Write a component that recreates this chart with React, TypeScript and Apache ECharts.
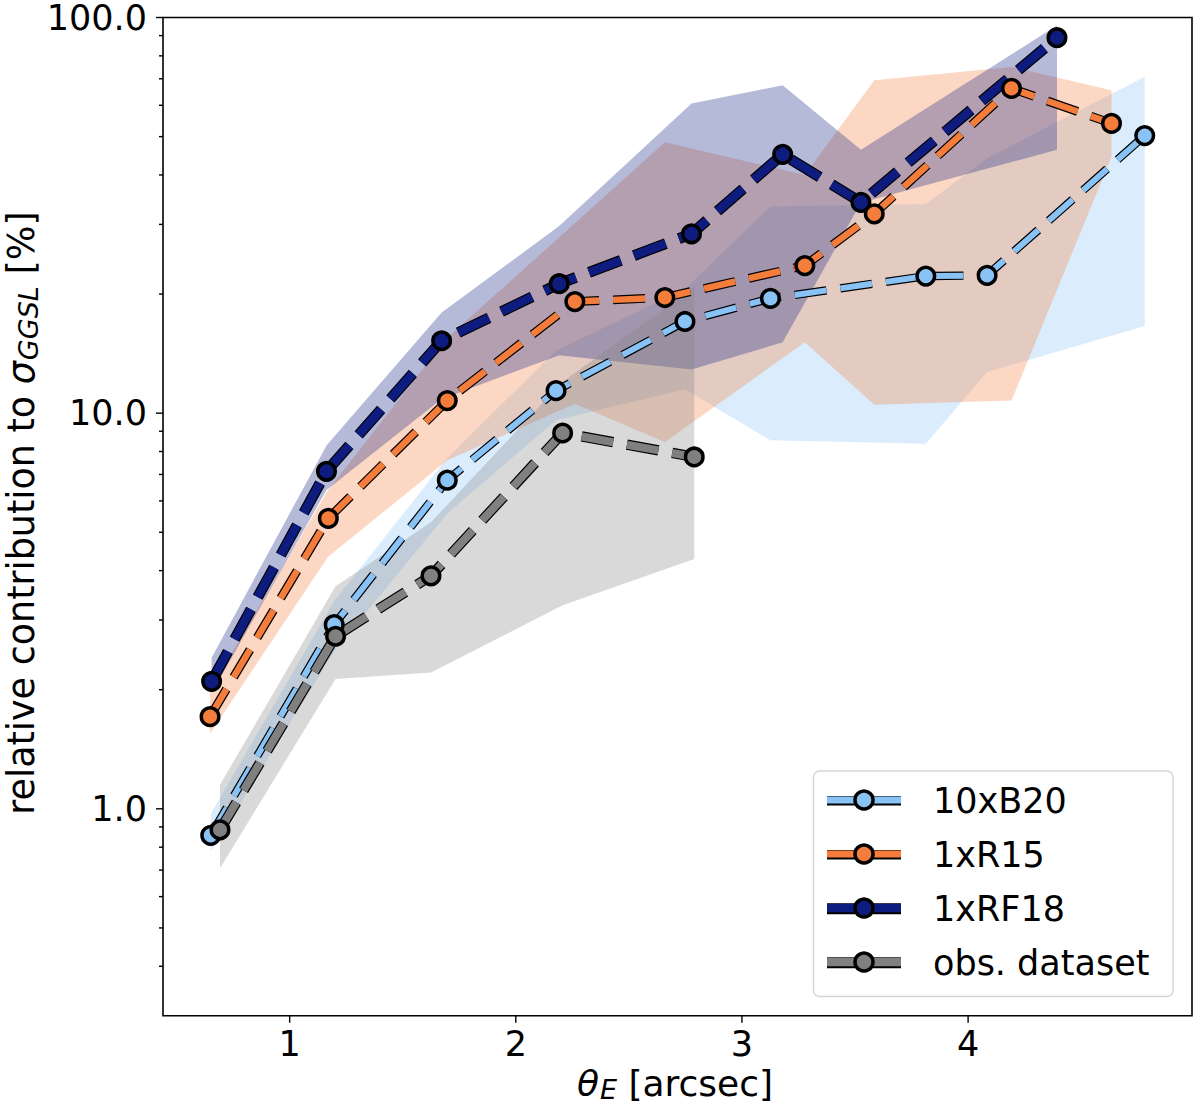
import React, { useEffect, useRef } from "react";
import * as echarts from "echarts";

const FONT = "DejaVu Sans";
const X_MIN = 0.44;
const X_MAX = 4.99;
const Y_MIN = 0.3;
const Y_MAX = 100;

// 10xB20
const lbX = [0.651, 1.197, 1.697, 2.178, 2.748, 3.126, 3.813, 4.084, 4.781];
const lbY = [0.857, 2.92, 6.77, 11.4, 17.05, 19.5, 22.2, 22.3, 50.3];
const lbLo = [0.78, 2.5, 5.58, 9.6, 11.5, 8.54, 8.37, 12.7, 16.6];
const lbHi = [0.97, 3.35, 7.7, 14.4, 20.6, 33.3, 33.8, 44.1, 70.8];

// 1xR15
const orX = [0.648, 1.171, 1.697, 2.261, 2.659, 3.278, 3.585, 4.192, 4.634];
const orY = [1.71, 5.42, 10.76, 19.14, 19.6, 23.6, 31.9, 66.2, 54.0];
const orLo = [1.55, 4.34, 7.6, 10.56, 8.46, 15.1, 10.5, 10.76, 44.4];
const orHi = [2.0, 6.4, 15.5, 30.2, 48.4, 40.0, 69.4, 75.0, 65.5];

// 1xRF18
const nvX = [0.655, 1.163, 1.672, 2.192, 2.777, 3.18, 3.526, 4.393];
const nvY = [2.1, 7.13, 15.24, 21.24, 28.4, 45.1, 34.1, 88.9];
const nvLo = [1.96, 6.39, 10.86, 14.0, 12.9, 15.1, 34.0, 46.3];
const nvHi = [2.41, 8.29, 17.96, 29.7, 60.6, 67.4, 46.3, 95.5];

// obs. dataset
const gyX = [0.692, 1.203, 1.625, 2.207, 2.789];
const gyY = [0.885, 2.73, 3.88, 8.91, 7.75];
const gyLo = [0.708, 2.13, 2.21, 3.27, 4.28];
const gyHi = [1.15, 3.65, 5.3, 12.0, 20.8];

const xTicks = [1, 2, 3, 4];
const yMajorTicks = [1, 10, 100];
const yMinorTicks = [0.4, 0.5, 0.6, 0.7, 0.8, 0.9, 2, 3, 4, 5, 6, 7, 8, 9, 20, 30, 40, 50, 60, 70, 80, 90];

const legendLabels = ["10xB20", "1xR15", "1xRF18", "obs. dataset"];

const C_LB = "#89c2f5";
const C_OR = "#f47d3b";
const C_NV = "#0e1c80";
const C_GY = "#808080";

function hexToRgba(hex: string, a: number) {
  const r = parseInt(hex.slice(1, 3), 16);
  const g = parseInt(hex.slice(3, 5), 16);
  const b = parseInt(hex.slice(5, 7), 16);
  return `rgba(${r},${g},${b},${a})`;
}

function bandSeries(xs: number[], lo: number[], hi: number[], color: string, z: number) {
  return {
    type: "custom",
    silent: true,
    z,
    coordinateSystem: "cartesian2d",
    encode: { x: 0, y: [1, 2] },
    data: xs.map((x, i) => [x, lo[i], hi[i]]),
    renderItem: (params: any, api: any) => {
      if (params.dataIndex !== 0) return null;
      const pts: number[][] = [];
      for (let i = 0; i < xs.length; i++) pts.push(api.coord([xs[i], hi[i]]));
      for (let i = xs.length - 1; i >= 0; i--) pts.push(api.coord([xs[i], lo[i]]));
      return {
        type: "polygon",
        shape: { points: pts },
        style: { fill: hexToRgba(color, 0.3), stroke: "none" },
      };
    },
  };
}

function lineSeries(name: string, xs: number[], ys: number[], color: string, w: number, dash: number[], z: number) {
  const data = xs.map((x, i) => [x, ys[i]]);
  return [
    {
      type: "line",
      name: name + "_outline",
      data,
      z,
      silent: true,
      symbol: "none",
      lineStyle: { color: "#000", width: w + 2.4, type: dash },
      emphasis: { disabled: true },
    },
    {
      type: "line",
      name,
      data,
      z,
      silent: true,
      symbol: "circle",
      symbolSize: 17.5,
      showSymbol: true,
      showAllSymbol: true,
      itemStyle: { color, borderColor: "#000", borderWidth: 3.5 },
      lineStyle: { color, width: w, type: dash },
      emphasis: { disabled: true },
    },
  ];
}

function tickSeries(rows: number[][], vertical: boolean) {
  return {
    type: "custom",
    silent: true,
    z: 5,
    coordinateSystem: "cartesian2d",
    encode: { x: 0, y: 1 },
    data: rows,
    renderItem: (params: any, api: any) => {
      const p = api.coord([api.value(0), api.value(1)]);
      const len = api.value(2);
      const shape = vertical
        ? { x1: p[0], y1: p[1], x2: p[0], y2: p[1] + len }
        : { x1: p[0] - len, y1: p[1], x2: p[0], y2: p[1] };
      return { type: "line", shape, style: { stroke: "#000", lineWidth: 1.4 } };
    },
  };
}

function buildLegend() {
  const colors = [C_LB, C_OR, C_NV, C_GY];
  const widths = [7, 7, 8.5, 8.5];
  const rowY = [800, 854, 908, 962];
  const children: any[] = [
    {
      type: "rect",
      shape: { x: 813.5, y: 771, width: 359.5, height: 225.5, r: 6 },
      style: { fill: "rgba(255,255,255,0.8)", stroke: "#d6d6d6", lineWidth: 1.5 },
    },
  ];
  legendLabels.forEach((label, i) => {
    const y = rowY[i];
    children.push({
      type: "line",
      shape: { x1: 827, y1: y + 0.8, x2: 901, y2: y + 0.8 },
      style: { stroke: "#000", lineWidth: widths[i] + 2.4 },
    });
    children.push({
      type: "line",
      shape: { x1: 827, y1: y, x2: 901, y2: y },
      style: { stroke: colors[i], lineWidth: widths[i] },
    });
    children.push({
      type: "circle",
      shape: { cx: 864, cy: y, r: 9 },
      style: { fill: colors[i], stroke: "#000", lineWidth: 3.5 },
    });
    children.push({
      type: "text",
      x: 933,
      y: y + 1,
      style: {
        text: label,
        fontSize: 35,
        fontFamily: FONT,
        fill: "#000",
        align: "left",
        verticalAlign: "middle",
      },
    });
  });
  return { type: "group", z: 100, children };
}

export default function App() {
  const ref = useRef<HTMLDivElement>(null);

  useEffect(() => {
    if (!ref.current) return;
    const chart = echarts.init(ref.current, null, { renderer: "svg" });

    const option: any = {
      animation: false,
      backgroundColor: "#ffffff",
      grid: {
        left: 163,
        top: 13.7,
        width: 1029,
        height: 1002,
        show: true,
        borderColor: "#000",
        borderWidth: 1.6,
        backgroundColor: "transparent",
      },
      xAxis: {
        type: "value",
        min: X_MIN,
        max: X_MAX,
        splitNumber: 5,
        axisLine: { show: false },
        axisTick: { show: false },
        splitLine: { show: false },
        axisLabel: {
          margin: 11,
          fontSize: 35,
          fontFamily: FONT,
          color: "#000",
          formatter: (v: number) => (Math.abs(v - Math.round(v)) < 1e-9 ? String(Math.round(v)) : ""),
        },
      },
      yAxis: {
        type: "log",
        logBase: 10,
        min: Y_MIN,
        max: Y_MAX,
        axisLine: { show: false },
        axisTick: { show: false },
        splitLine: { show: false },
        minorTick: { show: false },
        axisLabel: {
          margin: 16,
          fontSize: 35,
          fontFamily: FONT,
          color: "#000",
          formatter: (v: number) => {
            const l = Math.log10(v);
            return Math.abs(l - Math.round(l)) < 1e-6 ? v.toFixed(1) : "";
          },
        },
      },
      series: [
        bandSeries(lbX, lbLo, lbHi, C_LB, 1),
        bandSeries(orX, orLo, orHi, C_OR, 1),
        bandSeries(nvX, nvLo, nvHi, C_NV, 1),
        bandSeries(gyX, gyLo, gyHi, C_GY, 1),
        ...lineSeries("1xRF18", nvX, nvY, C_NV, 8.5, [34, 14], 2),
        ...lineSeries("1xR15", orX, orY, C_OR, 6.5, [32, 14], 2),
        ...lineSeries("10xB20", lbX, lbY, C_LB, 6, [32, 14], 2),
        ...lineSeries("obs. dataset", gyX, gyY, C_GY, 8, [32, 14], 2),
        tickSeries(yMajorTicks.map((v) => [X_MIN, v, 7]), false),
        tickSeries(yMinorTicks.map((v) => [X_MIN, v, 4]), false),
        tickSeries(xTicks.map((v) => [v, Y_MIN, 7]), true),
      ],
      graphic: [
        {
          type: "text",
          x: 675,
          y: 1083,
          style: {
            text: "{i|θ}{s|E} [arcsec]",
            fontSize: 36,
            fontFamily: FONT,
            lineHeight: 34,
            fill: "#000",
            align: "center",
            verticalAlign: "middle",
            rich: {
              i: { fontSize: 36, fontFamily: FONT, fontStyle: "italic", lineHeight: 34 },
              s: { fontSize: 27, fontFamily: FONT, fontStyle: "italic", lineHeight: 34, padding: [13, 0, 0, 1] },
            },
          },
        },
        {
          type: "text",
          x: 21.5,
          y: 513,
          rotation: Math.PI / 2,
          style: {
            text: "relative contribution to {i|σ}{s|GGSL} [%]",
            fontSize: 36.5,
            fontFamily: FONT,
            lineHeight: 34,
            fill: "#000",
            align: "center",
            verticalAlign: "middle",
            rich: {
              i: { fontSize: 36.5, fontFamily: FONT, fontStyle: "italic", lineHeight: 34 },
              s: { fontSize: 27, fontFamily: FONT, fontStyle: "italic", lineHeight: 34, padding: [14, 0, 0, 1] },
            },
          },
        },
        buildLegend(),
      ],
    };

    chart.setOption(option);
    return () => chart.dispose();
  }, []);

  return (
    <div
      ref={ref}
      style={{ position: "absolute", left: 0, top: 0, width: 1200, height: 1106 }}
    />
  );
}
